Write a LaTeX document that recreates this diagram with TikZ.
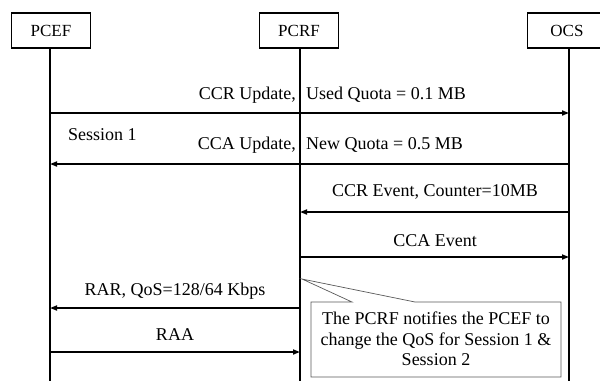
\documentclass[tikz,border=0pt]{standalone}
\usepackage{fontspec}
\setmainfont{Liberation Serif}
\usetikzlibrary{arrows.meta}
\begin{document}
\begin{tikzpicture}[x=1pt,y=-1pt,
  actor/.style={draw,line width=1.6pt,minimum width=79pt,minimum height=35pt,inner sep=0pt,font=\fontsize{17}{20}\selectfont},
  life/.style={line width=1.6pt},
  msg/.style={line width=1.6pt,-{Triangle[length=7pt,width=5pt]}},
  lbl/.style={inner sep=0pt,font=\fontsize{18}{21}\selectfont},
  note/.style={draw=black!65,line width=0.7pt,fill=white}]
\useasboundingbox (0,0) rectangle (600,381);

% participants
\node[actor] (pcef) at (51,30.5) {PCEF};
\node[actor] (pcrf) at (299,30.5) {PCRF};
\node[actor] (ocs) at (567,30.5) {OCS};

% lifelines
\coordinate (pcefend) at (50,381);
\coordinate (pcrfend) at (300,381);
\coordinate (ocsend) at (569,381);
\draw[life] (pcef.south -| pcefend) -- (pcefend);
\draw[life] (pcrf.south -| pcrfend) -- (pcrfend);
\draw[life] (ocs.south -| ocsend) -- (ocsend);

% message anchor points on the lifelines
\foreach \n/\y in {a/113,b/164,c/212,d/257,e/308,f/352}{
  \coordinate (pcef\n) at (50,\y);
  \coordinate (pcrf\n) at (300,\y);
  \coordinate (ocs\n) at (569,\y);
}

% messages
\draw[msg] (pcefa) -- (ocsa);
\node[lbl,anchor=base east] (l1a) at (296,99) {CCR Update,};
\node[lbl,anchor=base west] (l1b) at (306,99) {Used Quota = 0.1 MB};

\node[lbl,anchor=base west] (s1) at (68,140) {Session 1};
\draw[msg] (ocsb) -- (pcefb);
\node[lbl,anchor=base east] (l2a) at (296,149) {CCA Update,};
\node[lbl,anchor=base west] (l2b) at (306,149) {New Quota = 0.5 MB};

\draw[msg] (ocsc) -- (pcrfc);
\node[lbl,anchor=base] (l3) at (435,196) {CCR Event, Counter=10MB};

\draw[msg] (pcrfd) -- (ocsd);
\node[lbl,anchor=base] (l4) at (435,246) {CCA Event};

\draw[msg] (pcrfe) -- (pcefe);
\node[lbl,anchor=base] (l5) at (175,295) {RAR, QoS=128/64 Kbps};

\draw[msg] (pceff) -- (pcrff);
\node[lbl,anchor=base] (l6) at (175,340) {RAA};

% callout with its pointer to the PCRF lifeline
\coordinate (tip) at (302,279);
\draw[note] (311,302) -- (352,302) -- (tip) -- (415,302) -- (561,302)
  -- (561,377) -- (311,377) -- cycle;
\node[lbl,align=center,font=\fontsize{18}{20.5}\selectfont] (txt) at (436,339)
  {The PCRF notifies the PCEF to\\change the QoS for Session 1 \&\\Session 2};
\end{tikzpicture}
\end{document}
